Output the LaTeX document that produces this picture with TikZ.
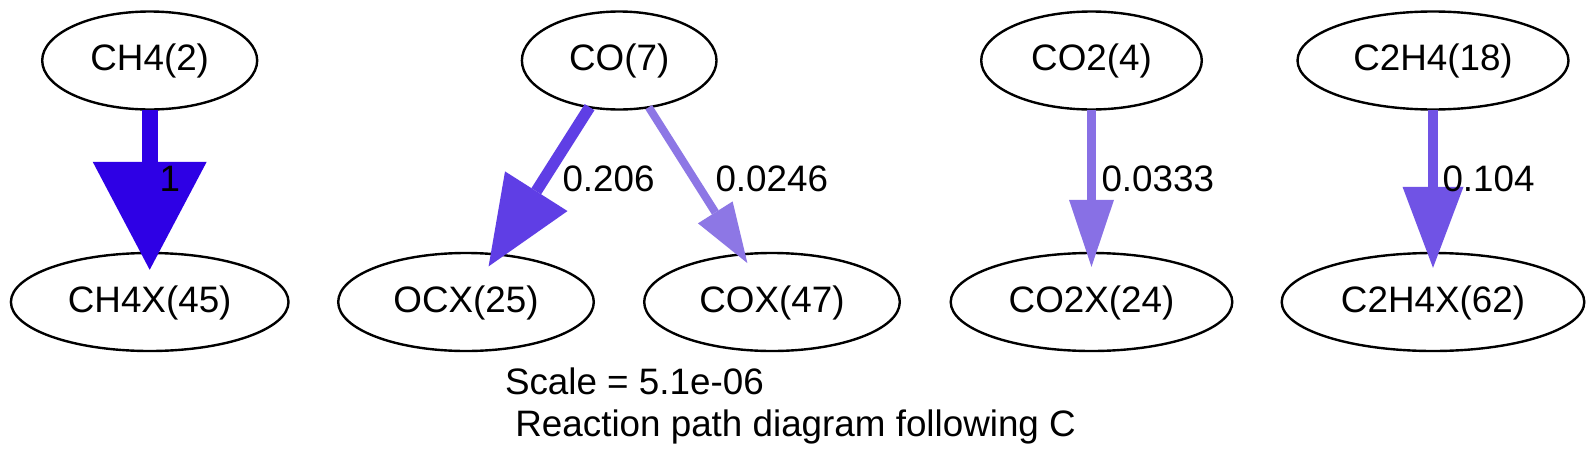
\documentclass[tikz,border=0pt]{standalone}
\usepackage{fontspec}
\setmainfont{Liberation Sans}
\usetikzlibrary{arrows.meta,shapes.geometric}
\definecolor{fA}{hsb}{0.7,1.00,0.9}
\definecolor{fB}{hsb}{0.7,0.73,0.9}
\definecolor{fC}{hsb}{0.7,0.48,0.9}
\definecolor{fD}{hsb}{0.7,0.51,0.9}
\definecolor{fE}{hsb}{0.7,0.64,0.9}
\begin{document}
\begin{tikzpicture}[x=1pt,y=-1pt]
\tikzset{
  txt/.style={font=\fontsize{36.8}{44}\selectfont},
  sp/.style={txt, ellipse, draw=black, line width=2.4pt, inner sep=0pt, outer sep=0pt,
             minimum height=98pt, text height=26.5pt, text depth=5.9pt},
  lbl/.style={txt, anchor=base west, inner sep=0pt, outer sep=0pt},
  flux/.style={line width=#1}
}
\fill[white] (0,0) rectangle (1596,469);
\useasboundingbox (0,0) rectangle (1596,469);

% nodes
\node[sp, minimum width=215pt]   (ch4)   at (149.7,60.5) {CH4(2)};
\node[sp, minimum width=277.6pt] (ch4x)  at (149.7,302)  {CH4X(45)};
\node[sp, minimum width=194.6pt] (co)    at (619.2,60.5) {CO(7)};
\node[sp, minimum width=255.6pt] (ocx)   at (466,302)    {OCX(25)};
\node[sp, minimum width=255.6pt] (cox)   at (772,302)    {COX(47)};
\node[sp, minimum width=220.6pt] (co2)   at (1091.5,60.5){CO2(4)};
\node[sp, minimum width=281.6pt] (co2x)  at (1091.5,302) {CO2X(24)};
\node[sp, minimum width=271pt]   (c2h4)  at (1433,60.5)  {C2H4(18)};
\node[sp, minimum width=302.6pt] (c2h4x) at (1433,302)   {C2H4X(62)};

% connectors
\draw[fA, flux=16pt, -{Triangle[width=114pt,length=108pt,line width=0pt]}, shorten >=-16.8pt] (ch4) -- (ch4x);
\draw[fB, flux=11.5pt, -{Triangle[width=74pt,length=89pt,line width=0pt]}, shorten >=-14.2pt] (co) -- (ocx);
\draw[fC, flux=8pt, -{Triangle[width=41pt,length=60pt,line width=0pt]}, shorten >=-10.3pt] (co) -- (cox);
\draw[fD, flux=8.5pt, -{Triangle[width=45pt,length=67pt,line width=0pt]}, shorten >=-13.8pt] (co2) -- (co2x);
\draw[fE, flux=10.5pt, -{Triangle[width=61pt,length=81pt,line width=0pt]}, shorten >=-14.8pt] (c2h4) -- (c2h4x);

% edge labels
\node[lbl] (l1) at (159.5,191.7)  {1};
\node[lbl] (l2) at (562.5,191.7)  {0.206};
\node[lbl] (l3) at (715.5,191.7)  {0.0246};
\node[lbl] (l4) at (1101.5,191.7) {0.0333};
\node[lbl] (l5) at (1442.5,191.7) {0.104};

% caption
\node[lbl] (scale) at (505,394.3) {Scale = 5.1e-06};
\node[lbl] (title) at (515.4,436.7) {Reaction path diagram following C};
\end{tikzpicture}
\end{document}
